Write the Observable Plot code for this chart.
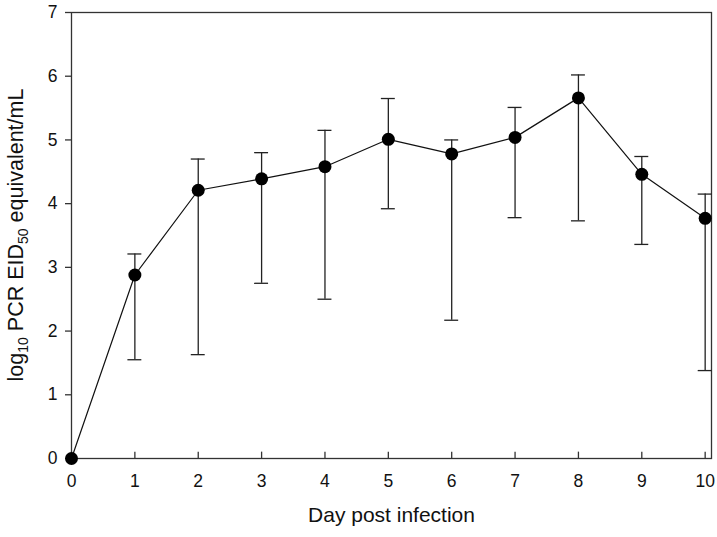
<!DOCTYPE html>
<html>
<head>
<meta charset="utf-8">
<script src="https://cdn.jsdelivr.net/npm/d3@7"></script>
<script src="https://cdn.jsdelivr.net/npm/@observablehq/plot@0.6"></script>
<style>
  html, body { margin: 0; padding: 0; background: #fff; }
  #chart svg { display: block; }
</style>
</head>
<body>
<div id="chart"></div>
<script>
const days  = [0, 1, 2, 3, 4, 5, 6, 7, 8, 9, 10];
const means = [0, 2.88, 4.21, 4.39, 4.58, 5.01, 4.78, 5.04, 5.66, 4.46, 3.77];
const upper = [0, 3.21, 4.70, 4.80, 5.15, 5.65, 5.00, 5.51, 6.02, 4.74, 4.15];
const lower = [0, 1.55, 1.63, 2.75, 2.50, 3.92, 2.17, 3.78, 3.73, 3.36, 1.38];
const xTicks = [0, 1, 2, 3, 4, 5, 6, 7, 8, 9, 10];
const yTicks = [0, 1, 2, 3, 4, 5, 6, 7];
const xLabel = "Day post infection";

const data = days.map((d, i) => ({day: d, mean: means[i], hi: upper[i], lo: lower[i]}));
const bars = data.filter(d => d.hi > d.lo);
const capHalf = 0.11;
const font = "'Liberation Sans', Arial, sans-serif";
const axisColor = "#333";

const plot = Plot.plot({
  width: 717,
  height: 537,
  marginLeft: 71,
  marginRight: 6,
  marginTop: 12,
  marginBottom: 79,
  style: {fontFamily: font, fontSize: "17px", color: "#111", background: "#fff"},
  x: {domain: [0, 10.1]},
  y: {domain: [0, 7]},
  marks: [
    Plot.frame({stroke: axisColor, strokeWidth: 1.3}),
    Plot.axisY({ticks: yTicks, tickSize: 6, tickPadding: 8, label: null, tickFormat: d => String(d), stroke: axisColor, strokeWidth: 1.3, fontSize: 17.5}),
    Plot.axisX({ticks: xTicks, tickSize: 0, tickPadding: 16, label: null, tickFormat: d => String(d), fontSize: 17.5}),
    Plot.ruleX(xTicks, {x: d => d, y1: 0, y2: 0.1, stroke: axisColor, strokeWidth: 1.3}),
    Plot.ruleX(bars, {x: "day", y1: "lo", y2: "hi", stroke: "#222", strokeWidth: 1.3}),
    Plot.ruleY(bars, {y: "hi", x1: d => d.day - capHalf, x2: d => d.day + capHalf, stroke: "#222", strokeWidth: 1.3}),
    Plot.ruleY(bars, {y: "lo", x1: d => d.day - capHalf, x2: d => d.day + capHalf, stroke: "#222", strokeWidth: 1.3}),
    Plot.line(data, {x: "day", y: "mean", stroke: "#111", strokeWidth: 1.2}),
    Plot.dot(data, {x: "day", y: "mean", r: 6.5, fill: "#000", stroke: "none"}),
    Plot.text([xLabel], {frameAnchor: "bottom", dy: 63, text: d => d, fontSize: 21, fill: "#111"})
  ]
});

// y-axis label with subscripts
const svg = d3.select(plot);
const t = svg.append("text")
  .attr("transform", "translate(23,235) rotate(-90)")
  .attr("text-anchor", "middle")
  .attr("font-family", font)
  .attr("font-size", 21.5)
  .attr("fill", "#111");
t.append("tspan").text("log");
t.append("tspan").attr("font-size", 14).attr("dy", 5).text("10");
t.append("tspan").attr("dy", -5).text(" PCR EID");
t.append("tspan").attr("font-size", 14).attr("dy", 5).text("50");
t.append("tspan").attr("dy", -5).text(" equivalent/mL");

document.getElementById("chart").appendChild(plot);
</script>
</body>
</html>
